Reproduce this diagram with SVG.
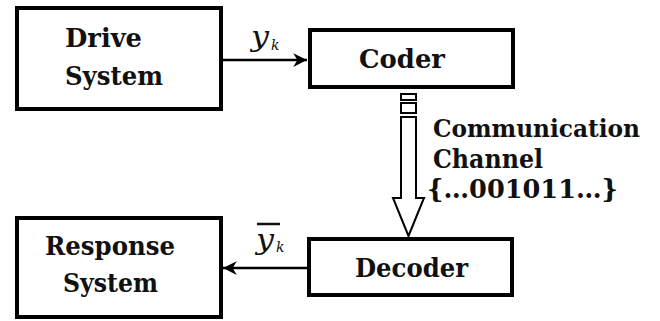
<svg xmlns="http://www.w3.org/2000/svg" width="660" height="321" viewBox="0 0 660 321">
<defs>
<style>
.box{fill:#fff;stroke:#000;stroke-width:4}
.t{font-family:'DejaVu Serif','Liberation Serif',serif;font-weight:bold;font-size:26px;fill:#111}
.m{font-family:'DejaVu Serif','Liberation Serif',serif;font-style:italic;fill:#111}
.ln{stroke:#000;stroke-width:2.5;fill:none}
.hol{fill:#fff;stroke:#000;stroke-width:2}
</style>
<marker id="ah" viewBox="0 0 10 10" refX="10" refY="5" markerWidth="5.5" markerHeight="5.5" markerUnits="strokeWidth" orient="auto">
<path d="M0,0 L10,5 L0,10 L3,5 Z" fill="#000"/>
</marker>
</defs>
<rect width="660" height="321" fill="#fff"/>
<g id="drive">
<rect class="box" x="17" y="8" width="204" height="101"/>
<text class="t" x="65" y="47" textLength="77" lengthAdjust="spacingAndGlyphs">Drive</text>
<text class="t" x="65" y="85" textLength="98" lengthAdjust="spacingAndGlyphs">System</text>
</g>
<g id="coder">
<rect class="box" x="310" y="30" width="203" height="57"/>
<text class="t" x="359" y="68" textLength="86" lengthAdjust="spacingAndGlyphs">Coder</text>
</g>
<g id="decoder">
<rect class="box" x="309" y="239" width="203" height="56"/>
<text class="t" x="355" y="277" textLength="113" lengthAdjust="spacingAndGlyphs">Decoder</text>
</g>
<g id="response">
<rect class="box" x="17" y="218" width="204" height="99"/>
<text class="t" x="45" y="255" textLength="130" lengthAdjust="spacingAndGlyphs">Response</text>
<text class="t" x="63" y="292" textLength="95" lengthAdjust="spacingAndGlyphs">System</text>
</g>
<g id="channel">
<rect class="hol" x="401" y="94" width="15" height="6"/>
<rect class="hol" x="401" y="103" width="15" height="10"/>
<path class="hol" d="M401,117 L401,198 L393,198 L408.5,236 L424,198 L416,198 L416,117 Z"/>
<text class="t" x="433" y="137" font-size="24" textLength="207" lengthAdjust="spacingAndGlyphs" style="font-size:24px">Communication</text>
<text class="t" x="433" y="168" textLength="110" lengthAdjust="spacingAndGlyphs">Channel</text>
<text class="t" x="427" y="198" textLength="191" lengthAdjust="spacingAndGlyphs">{…001011…}</text>
</g>
<g id="connectors">
<line class="ln" x1="221" y1="60" x2="307" y2="60" marker-end="url(#ah)"/>
<line class="ln" x1="309" y1="268" x2="223" y2="268" marker-end="url(#ah)"/>
</g>
<g id="labels">
<text class="m" x="251" y="46" font-size="27" textLength="18" lengthAdjust="spacingAndGlyphs">y</text>
<text class="m" x="271" y="50" font-size="14">k</text>
<line x1="257" y1="224" x2="280" y2="224" stroke="#111" stroke-width="2.5"/>
<text class="m" x="256" y="249" font-size="27" textLength="18" lengthAdjust="spacingAndGlyphs">y</text>
<text class="m" x="276" y="252" font-size="14">k</text>
</g>
</svg>
